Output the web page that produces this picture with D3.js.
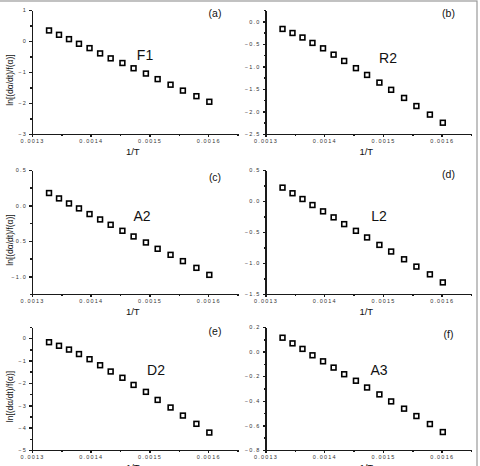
<!DOCTYPE html>
<html>
<head>
  <meta charset="utf-8">
  <script src="https://d3js.org/d3.v7.min.js"></script>
  <style>
    body { margin: 0; background: #fff; }
    svg { font-family: Arial, "Liberation Sans", sans-serif; }
    .axis path, .axis line { stroke: #1a1a1a; stroke-width: 1.5px; shape-rendering: crispEdges; }
    .axis text { font-size: 5.5px; fill: #333; letter-spacing: 1.2px; }
    .lbl { font-size: 9.5px; fill: #111; }
    .ylbl { font-size: 8.5px; fill: #111; }
    .tag { font-size: 10.5px; fill: #111; }
    .model { font-size: 14px; fill: #111; }
    .pt { fill: #fff; stroke: #000; stroke-width: 1.6px; }
  </style>
</head>
<body>
<script>
// 1/T values, same temperatures in every panel
var invT = [0.001329, 0.001346, 0.001363, 0.001380, 0.001398, 0.001416, 0.001434,
            0.001454, 0.001473, 0.001494, 0.001514, 0.001536, 0.001557, 0.001580, 0.001602];

// ln[(da/dt)/f(a)] for each model
var lnF1 = [0.34, 0.20, 0.06, -0.09, -0.23, -0.40, -0.56, -0.71, -0.88, -1.05, -1.23, -1.41, -1.60, -1.78, -1.96];
var lnR2 = [-0.17, -0.26, -0.36, -0.48, -0.60, -0.74, -0.88, -1.04, -1.19, -1.36, -1.52, -1.70, -1.88, -2.07, -2.25];
var lnA2 = [0.175, 0.099, 0.028, -0.042, -0.122, -0.198, -0.273, -0.358, -0.438, -0.523, -0.612, -0.697, -0.786, -0.881, -0.980];
var lnL2 = [0.216, 0.125, 0.032, -0.065, -0.167, -0.264, -0.373, -0.481, -0.588, -0.708, -0.815, -0.940, -1.058, -1.183, -1.313];
var lnD2 = [-0.18, -0.34, -0.51, -0.71, -0.94, -1.21, -1.49, -1.77, -2.09, -2.40, -2.76, -3.10, -3.46, -3.83, -4.22];
var lnA3 = [0.113, 0.067, 0.022, -0.030, -0.079, -0.130, -0.184, -0.237, -0.292, -0.348, -0.405, -0.464, -0.524, -0.589, -0.654];

// tick labels
var xTicks = [0.0013, 0.0014, 0.0015, 0.0016];
var xMinor = [0.00135, 0.00145, 0.00155, 0.00165];
var yTicksF1 = [-3, -2, -1, 0, 1];
var yTicksR2 = [-2.5, -2.0, -1.5, -1.0, -0.5, 0.0];
var yTicksA2 = [-1.0, -0.5, 0.0, 0.5];
var yTicksL2 = [-1.5, -1.0, -0.5, 0.0, 0.5];
var yTicksD2 = [-5, -4, -3, -2, -1, 0];
var yTicksA3 = [-0.8, -0.6, -0.4, -0.2, 0.0, 0.2];

var W = 480, H = 466;
var svg = d3.select("body").append("svg").attr("width", W).attr("height", H);

// outer frame (only top and right edges show)
svg.append("rect").attr("x", -2).attr("y", 1).attr("width", 479).attr("height", H + 5)
   .attr("fill", "none").attr("stroke", "#999").attr("stroke-width", 1.2);

var panels = [
  {tag: "(a)", name: "F1", ys: lnF1, ticks: yTicksF1, dom: [-3, 1], minor: 0.5, fmt: d3.format("d"),
   x0: 32, x1: 237.5, y0: 10, y1: 134, ylab: true, mx: 145, my: 60, ty: 17},
  {tag: "(b)", name: "R2", ys: lnR2, ticks: yTicksR2, dom: [-2.5, 0.25], minor: 0.25, fmt: d3.format(".1f"),
   x0: 265.5, x1: 471, y0: 10, y1: 134, ylab: false, mx: 388, my: 63, ty: 17},
  {tag: "(c)", name: "A2", ys: lnA2, ticks: yTicksA2, dom: [-1.25, 0.5], minor: 0.25, fmt: d3.format(".1f"),
   x0: 32, x1: 237.5, y0: 170, y1: 294, ylab: true, mx: 142, my: 221, ty: 181},
  {tag: "(d)", name: "L2", ys: lnL2, ticks: yTicksL2, dom: [-1.5, 0.5], minor: 0.25, fmt: d3.format(".1f"),
   x0: 265.5, x1: 471, y0: 170, y1: 294, ylab: false, mx: 379, my: 221, ty: 178},
  {tag: "(e)", name: "D2", ys: lnD2, ticks: yTicksD2, dom: [-5, 0.5], minor: 0.5, fmt: d3.format("d"),
   x0: 32, x1: 237.5, y0: 327, y1: 450, ylab: true, mx: 156, my: 375, ty: 335},
  {tag: "(f)", name: "A3", ys: lnA3, ticks: yTicksA3, dom: [-0.8, 0.2], minor: 0.1, fmt: d3.format(".1f"),
   x0: 265.5, x1: 471, y0: 327, y1: 450, ylab: false, mx: 379, my: 375, ty: 338}
];

panels.forEach(function(p) {
  var g = svg.append("g");
  var x = d3.scaleLinear().domain([0.0013, 0.00165]).range([p.x0, p.x1]);
  var y = d3.scaleLinear().domain(p.dom).range([p.y1, p.y0]);

  // minor ticks
  var yMinor = d3.range(p.dom[0], p.dom[1] + 1e-9, p.minor)
                 .filter(function(v) { return !p.ticks.some(function(t) { return Math.abs(t - v) < 1e-9; }); });
  g.append("g").attr("class", "axis").attr("transform", "translate(" + p.x0 + ",0)")
   .call(d3.axisLeft(y).tickValues(yMinor).tickSize(2).tickFormat(""))
   .select(".domain").remove();
  g.append("g").attr("class", "axis").attr("transform", "translate(0," + p.y1 + ")")
   .call(d3.axisBottom(x).tickValues(xMinor).tickSize(2).tickFormat(""))
   .select(".domain").remove();

  // major axes
  g.append("g").attr("class", "axis").attr("transform", "translate(" + p.x0 + ",0)")
   .call(d3.axisLeft(y).tickValues(p.ticks).tickSize(3).tickSizeOuter(0).tickPadding(2).tickFormat(p.fmt));
  g.append("g").attr("class", "axis").attr("transform", "translate(0," + p.y1 + ")")
   .call(d3.axisBottom(x).tickValues(xTicks).tickSize(3).tickSizeOuter(0).tickPadding(2).tickFormat(d3.format(".4f")));

  // points
  var s = 4.8;
  g.selectAll("rect.pt").data(invT).enter().append("rect")
   .attr("class", "pt")
   .attr("x", function(d) { return x(d) - s / 2; })
   .attr("y", function(d, i) { return y(p.ys[i]) - s / 2; })
   .attr("width", s).attr("height", s);

  // texts
  g.append("text").attr("class", "lbl").attr("text-anchor", "middle")
   .attr("x", (p.x0 + p.x1) / 2 - 2).attr("y", p.y1 + 21).text("1/T");
  if (p.ylab) {
    g.append("text").attr("class", "ylbl").attr("text-anchor", "middle")
     .attr("transform", "translate(13," + ((p.y0 + p.y1) / 2 + 8) + ") rotate(-90)")
     .text("ln[(dα/dt)/f(α)]");
  }
  g.append("text").attr("class", "tag").attr("text-anchor", "middle")
   .attr("x", p.x0 + 183).attr("y", p.ty).text(p.tag);
  g.append("text").attr("class", "model").attr("text-anchor", "middle")
   .attr("x", p.mx).attr("y", p.my).text(p.name);
});
</script>
</body>
</html>
